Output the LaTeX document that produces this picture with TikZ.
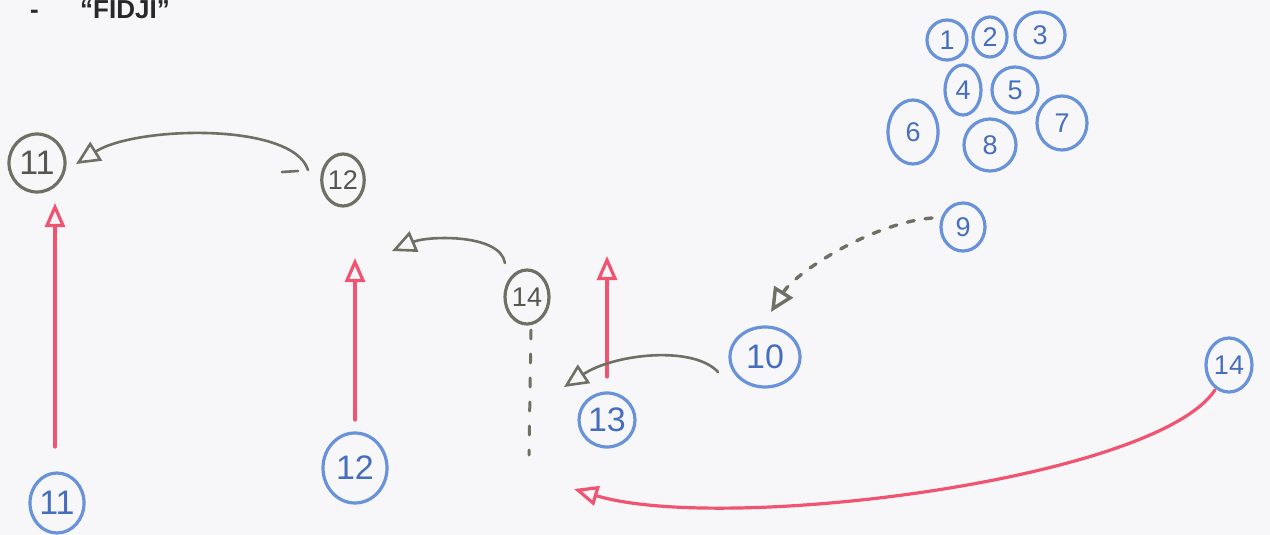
\documentclass[tikz,border=0pt]{standalone}
\usepackage{fontspec}
\setmainfont{Liberation Sans}
\usetikzlibrary{shapes.geometric,arrows.meta,calc}
\definecolor{paper}{RGB}{247,247,249}
\definecolor{penblue}{RGB}{104,146,218}
\definecolor{inkblue}{RGB}{70,110,190}
\definecolor{pengray}{RGB}{110,112,100}
\definecolor{inkgray}{RGB}{85,87,78}
\definecolor{penred}{RGB}{240,84,112}
\definecolor{titlegray}{RGB}{40,40,40}
\begin{document}
\begin{tikzpicture}[x=1pt,y=-1pt,
  bub/.style={ellipse, line width=3.2pt, inner sep=0pt, font=\fontsize{34}{34}\selectfont},
  bb/.style={bub, draw=penblue, text=inkblue},
  gb/.style={bub, draw=pengray, text=inkgray},
  sz/.style 2 args={minimum width=#1, minimum height=#2},
  smallfont/.style={font=\fontsize{27}{27}\selectfont},
  rarr/.style={draw=penred, line width=3.2pt, line cap=round, -{Triangle[open,length=24pt,width=20pt]}},
  garr/.style={draw=pengray, line width=2.6pt, line cap=round, -{Triangle[open,length=24pt,width=22pt]}},
  gdotarr/.style={garr, line width=3.4pt, dash pattern=on 7pt off 11pt},
  gdash/.style={draw=pengray, line width=3pt, line cap=round, dash pattern=on 9pt off 15pt}
]
\fill[paper] (0,0) rectangle (1270,535);
\useasboundingbox (0,0) rectangle (1270,535);

% title
\node[anchor=base west, inner sep=0pt, text=titlegray, font=\bfseries\fontsize{26}{26}\selectfont] (tdash) at (30,19) {-};
\node[anchor=base west, inner sep=0pt, text=titlegray, font=\bfseries\fontsize{26}{26}\selectfont] (title) at (80,19) {“FIDJI”};

% gray nodes
\node[gb, sz={56pt}{58pt}] (g11) at (37,163) {11};
\node[gb, sz={38pt}{52pt}, smallfont] (g12) at (343,180) {12};
\node[gb, sz={44pt}{54pt}, smallfont] (g14) at (527,297) {14};

% blue nodes
\node[bb, sz={54pt}{60pt}] (b11) at (57,503) {11};
\node[bb, sz={64pt}{70pt}] (b12) at (355,468) {12};
\node[bb, sz={56pt}{54pt}] (b13) at (607,420) {13};
\node[bb, sz={70pt}{60pt}] (b10) at (765,357) {10};
\node[bb, sz={44pt}{48pt}, smallfont] (b9) at (963,227) {9};
\node[bb, sz={46pt}{54pt}, smallfont] (b14) at (1229,365) {14};

% cluster
\node[bb, sz={40pt}{40pt}, smallfont] (c1) at (947,40) {1};
\node[bb, sz={34pt}{40pt}, smallfont] (c2) at (990,37) {2};
\node[bb, sz={50pt}{46pt}, smallfont] (c3) at (1040,35) {3};
\node[bb, sz={36pt}{50pt}, smallfont] (c4) at (963,90) {4};
\node[bb, sz={46pt}{46pt}, smallfont] (c5) at (1015,90) {5};
\node[bb, sz={50pt}{64pt}, smallfont] (c6) at (913,132) {6};
\node[bb, sz={52pt}{52pt}, smallfont] (c8) at (990,145) {8};
\node[bb, sz={50pt}{54pt}, smallfont] (c7) at (1062,123) {7};

% free ends
\coordinate (t12) at (355,258);
\coordinate (t13) at (607,256);
\coordinate (t14g) at (392,251);
\coordinate (t10g) at (564,387);
\coordinate (t9) at (771,312);
\coordinate (tr) at (574,489);
\coordinate (gd) at (529,455);

% red connectors
\draw[rarr] ($(b11)+(-2,-56)$) -- ($(g11)+(18,40)$);
\draw[rarr] ($(b12)+(0,-48)$) -- (t12);
\draw[rarr] ($(b13)+(0,-43)$) -- (t13);
\draw[rarr] ($(b14)+(-14,25)$) .. controls +(-60,90) and +(150,45) .. (tr);

% gray connectors
\draw[garr] ($(g12)+(-35,-10)$) .. controls +(-15,-48) and +(60,-38) .. ($(g11)+(39,1)$);
\draw[draw=pengray, line width=2.6pt, line cap=round] ($(g12)+(-61,-8)$) -- ($(g12)+(-45,-9)$);
\draw[garr] ($(g14)+(-22,-34)$) .. controls +(-5,-30) and +(35,-15) .. (t14g);
\draw[garr] ($(b10)+(-47,15)$) .. controls +(-25,-27) and +(50,-33) .. (t10g);
\draw[gdotarr] ($(b9)+(-31,-9)$) .. controls +(-60,5) and +(25,-40) .. (t9);
\draw[gdash] ($(g14)+(4,33)$) -- (gd);
\end{tikzpicture}
\end{document}
